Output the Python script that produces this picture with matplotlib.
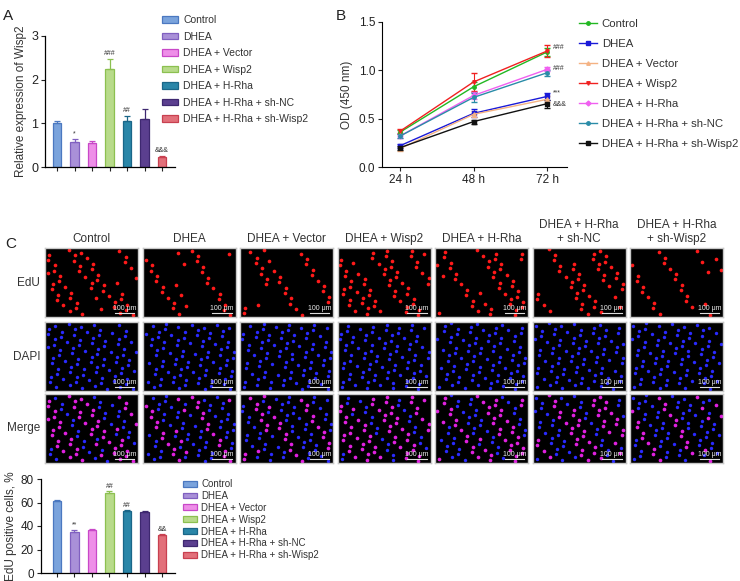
import numpy as np
import matplotlib
matplotlib.use('Agg')
import matplotlib.pyplot as plt
from matplotlib.lines import Line2D

plt.rcParams['font.family'] = ['Liberation Sans', 'DejaVu Sans']

# groups shared by every panel
groups = ['Control', 'DHEA', 'DHEA + Vector', 'DHEA + Wisp2', 'DHEA + H-Rha',
          'DHEA + H-Rha + sh-NC', 'DHEA + H-Rha + sh-Wisp2']
col_titles = ['Control', 'DHEA', 'DHEA + Vector', 'DHEA + Wisp2', 'DHEA + H-Rha',
              'DHEA + H-Rha\n+ sh-NC', 'DHEA + H-Rha\n+ sh-Wisp2']

# A - relative expression of Wisp2
wisp2_expr = [1.00, 0.58, 0.54, 2.25, 1.06, 1.11, 0.23]
wisp2_err = [0.06, 0.05, 0.05, 0.22, 0.11, 0.22, 0.02]
wisp2_sig = ['', '*', '', '###', '##', '', '&&&']

# B - CCK-8 OD (450 nm)
times = ['24 h', '48 h', '72 h']
od_control = [0.36, 0.83, 1.19]
od_dhea = [0.22, 0.555, 0.73]
od_vector = [0.19, 0.545, 0.70]
od_wisp2 = [0.37, 0.88, 1.20]
od_hrha = [0.32, 0.74, 1.01]
od_shnc = [0.32, 0.72, 0.975]
od_shwisp2 = [0.20, 0.47, 0.655]
od_control_err = [0.02, 0.05, 0.04]
od_dhea_err = [0.02, 0.04, 0.04]
od_vector_err = [0.02, 0.03, 0.03]
od_wisp2_err = [0.02, 0.09, 0.06]
od_hrha_err = [0.02, 0.04, 0.02]
od_shnc_err = [0.02, 0.05, 0.03]
od_shwisp2_err = [0.02, 0.02, 0.04]
od_sig = ['###', '###', '***', '&&&']
od_sig_y = [1.24, 1.02, 0.765, 0.65]

# C/D - EdU positive cells, %
edu_pct = [61.5, 35.0, 36.4, 68.2, 52.7, 51.9, 32.0]
edu_err = [0.8, 2.0, 0.7, 1.2, 1.0, 0.7, 1.4]
edu_sig = ['', '**', '', '##', '##', '', '&&']

bar_fill = ['#7aa3dc', '#a990d8', '#ee8ee8', '#b8db8a', '#2a86a8', '#5b3f8f', '#e2707a']
bar_edge = ['#4b78c0', '#8060c0', '#c848c8', '#8cc050', '#1a6688', '#3e2870', '#c84050']
line_colors = ['#22b822', '#1a1ad8', '#f4b283', '#f02020', '#f060f0', '#2a8ca8', '#111111']
line_markers = ['o', 's', '^', 'v', 'D', 'o', 's']

W, H = 740, 581
fig = plt.figure(figsize=(W / 100, H / 100), dpi=100)


def box(x0, y0, x1, y1):
    # pixel box -> figure fraction rect
    return [x0 / W, 1 - y1 / H, (x1 - x0) / W, (y1 - y0) / H]


def bar_panel(ax, vals, errs, sigs, ymax, yticks, ylabel, sig_off):
    x = np.arange(len(vals))
    ax.bar(x, vals, width=0.5, color=bar_fill, edgecolor=bar_edge, linewidth=0.9,
           label=groups)
    for i in x:
        ax.errorbar(i, vals[i], yerr=[[0], [errs[i]]], fmt='none', ecolor=bar_edge[i],
                    elinewidth=0.9, capsize=2, capthick=0.9)
        if sigs[i]:
            ax.text(i, vals[i] + errs[i] + sig_off, sigs[i], ha='center', va='bottom',
                    fontsize=5, color='#333333')
    ax.set_ylim(0, ymax)
    ax.set_yticks(yticks)
    ax.set_xticks(x)
    ax.set_xticklabels([])
    ax.tick_params(axis='both', length=3, width=0.8, labelsize=9, colors='#222222', pad=2)
    for s in ['top', 'right']:
        ax.spines[s].set_visible(False)
    for s in ['left', 'bottom']:
        ax.spines[s].set_linewidth(0.9)
    ax.set_ylabel(ylabel, fontsize=8.5, color='#333333', labelpad=3)


# ---- A
axA = fig.add_axes(box(45, 36, 175, 167))
bar_panel(axA, wisp2_expr, wisp2_err, wisp2_sig, 3, [0, 1, 2, 3],
          'Relative expression of Wisp2', 0.05)
axA.set_xlim(-0.69, 6.74)
axA.legend(loc='upper left', bbox_to_anchor=(0.87, 1.19), frameon=False, fontsize=7.5,
           handlelength=1.5, handleheight=0.6, labelspacing=0.62, handletextpad=0.5,
           borderaxespad=0, labelcolor='#333333')

# ---- B
axB = fig.add_axes(box(382, 22, 567, 167))
od_series = [od_control, od_dhea, od_vector, od_wisp2, od_hrha, od_shnc, od_shwisp2]
od_errs = [od_control_err, od_dhea_err, od_vector_err, od_wisp2_err, od_hrha_err,
           od_shnc_err, od_shwisp2_err]
tx = np.arange(len(times))
handles = []
for k in range(len(groups)):
    axB.errorbar(tx, od_series[k], yerr=od_errs[k], color=line_colors[k], lw=1.0,
                 marker=line_markers[k], ms=2.5, capsize=2, elinewidth=0.8)
    handles.append(Line2D([0], [0], color=line_colors[k], lw=1.0,
                          marker=line_markers[k], ms=2.5, label=groups[k]))
for s, yv in zip(od_sig, od_sig_y):
    axB.text(2.08, yv, s, fontsize=5, va='center', ha='left', color='#333333')
axB.set_xlim(-0.245, 2.27)
axB.set_ylim(0, 1.5)
axB.set_xticks(tx)
axB.set_xticklabels(times)
axB.set_yticks([0, 0.5, 1.0, 1.5])
axB.set_yticklabels(['0.0', '0.5', '1.0', '1.5'])
axB.tick_params(axis='both', length=3, width=0.8, labelsize=8.5, colors='#222222', pad=2)
for s in ['top', 'right']:
    axB.spines[s].set_visible(False)
axB.set_ylabel('OD (450 nm)', fontsize=8.5, color='#333333', labelpad=4)
axB.legend(handles=handles, loc='upper left', bbox_to_anchor=(1.04, 1.05), frameon=False,
           fontsize=8.2, handlelength=1.6, labelspacing=0.87, handletextpad=0.4,
           borderaxespad=0, labelcolor='#333333')

# ---- C image grid
rows = ['EdU', 'DAPI', 'Merge']
row_top = [248, 322, 394]
img_h = 69
col_left = [45 + 97.5 * i for i in range(7)]
img_w = 93
n_cells = 85
# R2 low-discrepancy sequence to spread nuclei evenly over each field
a1 = 0.7548776662
a2 = 0.5698402910
for j in range(7):
    idx = np.arange(n_cells) + 17 * j
    cx = (0.5 + idx * a1) % 1.0
    cy = (0.5 + idx * a2) % 1.0
    n_pos = int(round(n_cells * edu_pct[j] / 100))
    pos = (np.arange(n_cells) * 7 + j) % n_cells < n_pos
    for r in range(3):
        ax = fig.add_axes(box(col_left[j], row_top[r], col_left[j] + img_w, row_top[r] + img_h))
        ax.set_facecolor('black')
        ax.set_xlim(-0.02, 1.02)
        ax.set_ylim(-0.02, 1.02)
        ax.set_xticks([])
        ax.set_yticks([])
        for s in ax.spines.values():
            s.set_color('#c8c8c8')
            s.set_linewidth(1.0)
        if r == 0:
            ax.scatter(cx[pos], cy[pos], s=7, c='#ff1a1a', linewidths=0)
        elif r == 1:
            ax.scatter(cx, cy, s=6, c='#2a2aff', linewidths=0)
        else:
            ax.scatter(cx[~pos], cy[~pos], s=6, c='#2a2aff', linewidths=0)
            ax.scatter(cx[pos], cy[pos], s=7, c='#e020e0', linewidths=0)
        ax.plot([0.76, 0.98], [0.04, 0.04], color='#dddddd', lw=0.8)
        ax.text(0.87, 0.06, '100 \u03bcm', color='#eeeeee', fontsize=5, ha='center',
                va='bottom')
        if j == 0:
            ax.text(-0.05, 0.5, rows[r], transform=ax.transAxes, ha='right', va='center',
                    fontsize=8.5, color='#333333')
        if r == 0:
            ax.text(0.5, 1.05, col_titles[j], transform=ax.transAxes, ha='center',
                    va='bottom', fontsize=8.5, color='#333333', linespacing=1.15)

# ---- D
axD = fig.add_axes(box(41, 479, 175, 573))
bar_panel(axD, edu_pct, edu_err, edu_sig, 80, [0, 20, 40, 60, 80],
          'EdU positive cells, %', 1.0)
axD.set_xlim(-0.91, 6.74)
axD.tick_params(labelsize=8.5)
axD.legend(loc='upper left', bbox_to_anchor=(1.03, 1.04), frameon=False, fontsize=7,
           handlelength=1.5, handleheight=0.55, labelspacing=0.19, handletextpad=0.4,
           borderaxespad=0, labelcolor='#333333')

# panel letters
fig.text(3 / W, 1 - 20 / H, 'A', fontsize=11, color='#222222')
fig.text(336 / W, 1 - 20 / H, 'B', fontsize=11, color='#222222')
fig.text(5 / W, 1 - 248 / H, 'C', fontsize=11, color='#222222')

fig.savefig('out.png', dpi=100)
